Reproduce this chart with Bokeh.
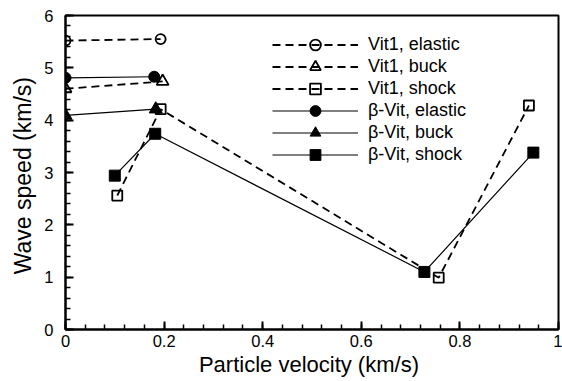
from bokeh.plotting import figure
from bokeh.models import FixedTicker, Legend, LegendItem
from bokeh.embed import file_html
from bokeh.resources import INLINE
import numpy as np

# ---- data ----
vit1_elastic_x = [0.0, 0.193]
vit1_elastic_y = [5.52, 5.55]
vit1_buck_x = [0.0, 0.197]
vit1_buck_y = [4.60, 4.74]
vit1_shock_x = [0.105, 0.193, 0.757, 0.940]
vit1_shock_y = [2.56, 4.21, 0.99, 4.28]
beta_elastic_x = [0.0, 0.180]
beta_elastic_y = [4.81, 4.83]
beta_buck_x = [0.0, 0.183]
beta_buck_y = [4.09, 4.21]
beta_shock_x = [0.100, 0.182, 0.728, 0.949]
beta_shock_y = [2.94, 3.74, 1.10, 3.38]

x_ticks = [0, 0.2, 0.4, 0.6, 0.8, 1.0]
x_tick_labels = ["0", "0.2", "0.4", "0.6", "0.8", "1"]
y_ticks = [0, 1, 2, 3, 4, 5, 6]
y_tick_labels = ["0", "1", "2", "3", "4", "5", "6"]

labels = ["Vit1, elastic", "Vit1, buck", "Vit1, shock",
          "β-Vit, elastic", "β-Vit, buck", "β-Vit, shock"]

FONT = "Liberation Sans"

p = figure(width=562, height=381, x_range=(0, 1), y_range=(0, 6),
           output_backend="svg", toolbar_location=None,
           min_border_left=65, min_border_right=4,
           min_border_top=15, min_border_bottom=52)

p.xgrid.visible = False
p.ygrid.visible = False
p.outline_line_color = "black"
p.outline_line_width = 2
p.background_fill_color = "white"
p.border_fill_color = "white"

p.xaxis.ticker = FixedTicker(ticks=x_ticks,
                             minor_ticks=list(np.round(np.arange(0, 1.0001, 0.04), 3)))
p.yaxis.ticker = FixedTicker(ticks=y_ticks,
                             minor_ticks=list(np.round(np.arange(0, 6.0001, 0.2), 3)))
p.xaxis.major_label_overrides = {t: l for t, l in zip(x_ticks, x_tick_labels)}
p.yaxis.major_label_overrides = {t: l for t, l in zip(y_ticks, y_tick_labels)}

for ax in (p.xaxis, p.yaxis):
    ax.axis_line_width = 2
    ax.axis_line_color = "black"
    ax.major_tick_in = 8
    ax.major_tick_out = 0
    ax.minor_tick_in = 5
    ax.minor_tick_out = 0
    ax.major_tick_line_width = 2
    ax.minor_tick_line_width = 1.5
    ax.major_tick_line_color = "black"
    ax.minor_tick_line_color = "black"
    ax.major_label_text_font = FONT
    ax.major_label_text_font_size = "16.5px"
    ax.major_label_text_color = "black"
    ax.axis_label_text_font = FONT
    ax.axis_label_text_font_style = "normal"
    ax.axis_label_text_color = "black"

p.xaxis.axis_label_text_font_size = "22px"
p.yaxis.axis_label_text_font_size = "23px"
p.xaxis.axis_label = "Particle velocity  (km/s)"
p.yaxis.axis_label = "Wave speed  (km/s)"
p.xaxis.major_label_standoff = 5
p.yaxis.major_label_standoff = 12
p.xaxis.axis_label_standoff = 2
p.yaxis.axis_label_standoff = 5

DASH = "8 5"
items = []

def series(x, y, dashed, marker, filled, size, label):
    lw = 1.8 if dashed else 1.2
    r1 = p.line(x, y, line_color="black", line_width=lw,
                line_dash=DASH if dashed else "solid")
    if filled:
        r2 = p.scatter(x, y, marker=marker, size=size, fill_color="black",
                       line_color="black", line_width=1)
    else:
        r2 = p.scatter(x, y, marker=marker, size=size, fill_color=None,
                       line_color="black", line_width=1.8)
    items.append(LegendItem(label=label, renderers=[r1, r2]))

series(vit1_elastic_x, vit1_elastic_y, True, "circle", False, 10, labels[0])
series(vit1_buck_x, vit1_buck_y, True, "triangle", False, 12, labels[1])
series(vit1_shock_x, vit1_shock_y, True, "square", False, 10, labels[2])
series(beta_elastic_x, beta_elastic_y, False, "circle", True, 11, labels[3])
series(beta_buck_x, beta_buck_y, False, "triangle", True, 13, labels[4])
series(beta_shock_x, beta_shock_y, False, "square", True, 11, labels[5])

# two interleaved legends so that rows sit 22 px apart while the
# legend glyph box stays tall enough for full-size markers
def make_legend(its, loc):
    lg = Legend(items=its, location=loc)
    lg.glyph_width = 86
    lg.glyph_height = 27
    lg.label_height = 27
    lg.spacing = 17
    lg.padding = 0
    lg.margin = 0
    lg.label_standoff = 10
    lg.label_text_font = FONT
    lg.label_text_font_size = "18px"
    lg.label_text_color = "black"
    lg.border_line_color = None
    lg.background_fill_alpha = 0
    p.add_layout(lg, "center")

make_legend(items[0::2], (207, 183))
make_legend(items[1::2], (207, 161))

open("out.html", "w").write(file_html(p, INLINE))
